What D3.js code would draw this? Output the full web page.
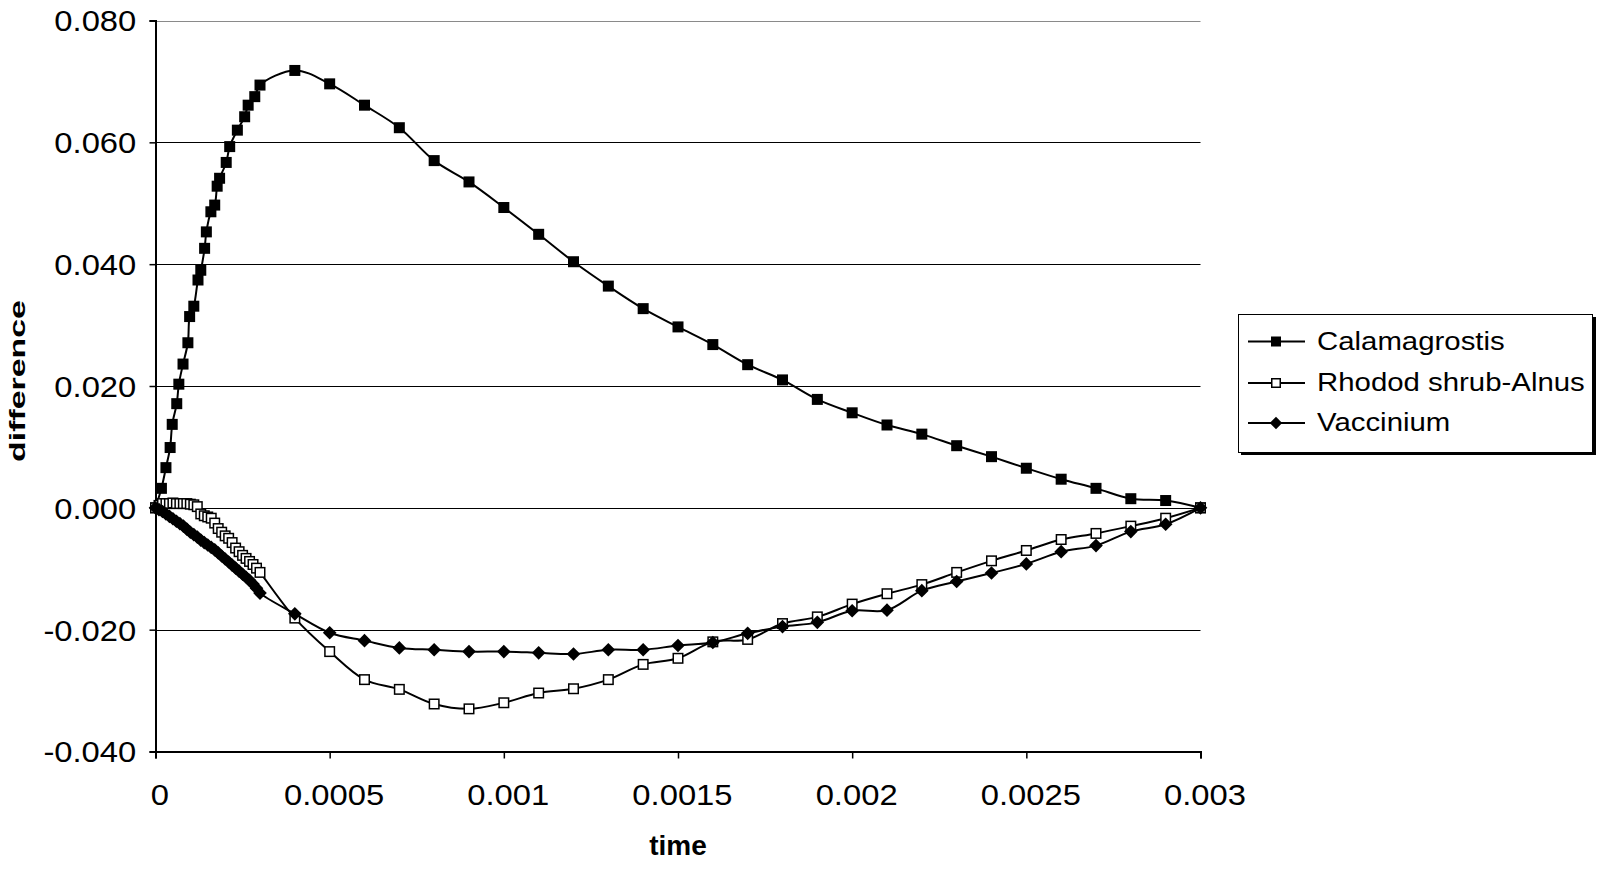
<!DOCTYPE html>
<html>
<head>
<meta charset="utf-8">
<script src="https://cdn.jsdelivr.net/npm/d3@7"></script>
<style>
  html, body { margin: 0; padding: 0; background: #fff; }
  svg { display: block; font-family: "Liberation Sans", Arial, sans-serif; }
</style>
</head>
<body>
<svg id="chart" width="1598" height="870"></svg>
<script>
// ---------------- DATA ----------------
const seriesNames = ["Calamagrostis", "Rhodod shrub-Alnus", "Vaccinium"];

const xTicks = [0, 0.0005, 0.001, 0.0015, 0.002, 0.0025, 0.003];
const xTickLabels = ["0", "0.0005", "0.001", "0.0015", "0.002", "0.0025", "0.003"];
const yTicks = [-0.04, -0.02, 0, 0.02, 0.04, 0.06, 0.08];
const yTickLabels = ["-0.040", "-0.020", "0.000", "0.020", "0.040", "0.060", "0.080"];

// Calamagrostis, early dense part
const calaTimeEarly = [0, 0.000017, 0.00003, 0.000042, 0.000048, 0.000061, 0.000067, 0.000079, 0.000093, 0.000098,
  0.00011, 0.000122, 0.00013, 0.000141, 0.000146, 0.000159, 0.00017, 0.000177, 0.000184, 0.000203,
  0.000213, 0.000235, 0.000256, 0.000266, 0.000285, 0.0003];
const calaValEarly = [0, 0.0032, 0.0066, 0.0099, 0.0137, 0.0171, 0.0203, 0.0236, 0.0271, 0.0314,
  0.0331, 0.0374, 0.0390, 0.0426, 0.0453, 0.0486, 0.0497, 0.0528, 0.0541, 0.0567,
  0.0593, 0.0620, 0.0642, 0.0661, 0.0675, 0.0694];

// Rhodod shrub-Alnus and Vaccinium, early dense part
const earlyTime = [0, 0.00001, 0.00002, 0.00003, 0.00004, 0.00005, 0.00006, 0.00007, 0.00008, 0.00009,
  0.0001, 0.00011, 0.00012, 0.00013, 0.00014, 0.00015, 0.00016, 0.00017, 0.00018, 0.00019,
  0.0002, 0.00021, 0.00022, 0.00023, 0.00024, 0.00025, 0.00026, 0.00027, 0.00028, 0.00029, 0.0003];
const rhodValEarly = [0, 0.0004, 0.0007, 0.0007, 0.0007, 0.0008, 0.0007, 0.0007, 0.0007, 0.0007,
  0.0006, 0.0005, 0.0002, -0.0010, -0.0013, -0.0015, -0.0017, -0.0025, -0.0034, -0.0040,
  -0.0046, -0.0050, -0.0057, -0.0066, -0.0072, -0.0078, -0.0083, -0.0088, -0.0093, -0.0099, -0.0106];
const vaccValEarly = [0, -0.0003, -0.0006, -0.0010, -0.0014, -0.0018, -0.0022, -0.0026, -0.0030, -0.0035,
  -0.0040, -0.0044, -0.0048, -0.0053, -0.0057, -0.0061, -0.0065, -0.0069, -0.0074, -0.0079,
  -0.0084, -0.0089, -0.0094, -0.0099, -0.0104, -0.0109, -0.0114, -0.0119, -0.0125, -0.0132, -0.0140];

// later part, common time steps
const lateTime = [0.0004, 0.0005, 0.0006, 0.0007, 0.0008, 0.0009, 0.001, 0.0011, 0.0012, 0.0013,
  0.0014, 0.0015, 0.0016, 0.0017, 0.0018, 0.0019, 0.002, 0.0021, 0.0022, 0.0023,
  0.0024, 0.0025, 0.0026, 0.0027, 0.0028, 0.0029, 0.003];
const calaValLate = [0.0718, 0.0696, 0.0661, 0.0624, 0.0570, 0.0535, 0.0493, 0.0449, 0.0404, 0.0364,
  0.0327, 0.0297, 0.0268, 0.0235, 0.0210, 0.0178, 0.0156, 0.0136, 0.0121, 0.0102,
  0.0084, 0.0065, 0.0047, 0.0032, 0.0015, 0.0012, 0];
const rhodValLate = [-0.0181, -0.0236, -0.0282, -0.0298, -0.0322, -0.0330, -0.0320, -0.0304, -0.0297, -0.0282,
  -0.0257, -0.0247, -0.0220, -0.0216, -0.0190, -0.0179, -0.0158, -0.0141, -0.0126, -0.0106,
  -0.0087, -0.0070, -0.0052, -0.0042, -0.0030, -0.0017, 0];
const vaccValLate = [-0.0174, -0.0205, -0.0218, -0.0230, -0.0233, -0.0236, -0.0236, -0.0238, -0.0240, -0.0233,
  -0.0233, -0.0226, -0.0221, -0.0206, -0.0195, -0.0188, -0.0169, -0.0168, -0.0136, -0.0121,
  -0.0107, -0.0092, -0.0072, -0.0062, -0.0039, -0.0027, 0];

// ---------------- BUILD ----------------
const zip = (ts, vs) => ts.map((t, i) => ({ t, v: vs[i] }));
const series = [
  { name: seriesNames[0], marker: "square", data: zip(calaTimeEarly, calaValEarly).concat(zip(lateTime, calaValLate)) },
  { name: seriesNames[1], marker: "hollow", data: zip(earlyTime, rhodValEarly).concat(zip(lateTime, rhodValLate)) },
  { name: seriesNames[2], marker: "diamond", data: zip(earlyTime, vaccValEarly).concat(zip(lateTime, vaccValLate)) }
];

const svg = d3.select("#chart");
const x = d3.scaleLinear().domain([0, 0.003]).range([155.5, 1200.5]);
const y = d3.scaleLinear().domain([-0.04, 0.08]).range([751.5, 20.5]);
const SX = 1.13;

// gridlines
svg.append("g").selectAll("line").data(yTicks.filter(d => d !== -0.04)).join("line")
  .attr("x1", x(0)).attr("x2", x(0.003))
  .attr("y1", d => Math.round(y(d)) + 0.5).attr("y2", d => Math.round(y(d)) + 0.5)
  .attr("stroke", d => d === 0.08 ? "#8a8a8a" : "#000").attr("stroke-width", 1.2);

// axes
const yAxis = d3.axisLeft(y).tickValues(yTicks).tickFormat((d, i) => yTickLabels[i]).tickSize(6).tickPadding(11);
const gy = svg.append("g").attr("transform", `translate(${x(0)},0)`).call(yAxis);
gy.select(".domain").attr("stroke", "#000").attr("stroke-width", 2);
gy.selectAll(".tick line").attr("stroke", "#000").attr("stroke-width", 1.5);
gy.selectAll(".tick text").attr("font-size", 29).attr("fill", "#000")
  .attr("font-family", "Liberation Sans, Arial, sans-serif")
  .attr("dy", "0.36em").attr("transform", `scale(${SX},1)`);

const xAxis = d3.axisBottom(x).tickValues(xTicks).tickFormat((d, i) => xTickLabels[i]).tickSize(7);
const gx = svg.append("g").attr("transform", `translate(0,${y(-0.04)})`).call(xAxis);
gx.select(".domain").attr("stroke", "#000").attr("stroke-width", 2);
gx.selectAll(".tick line").attr("stroke", "#000").attr("stroke-width", 1.5);
gx.selectAll(".tick text").attr("font-size", 29).attr("fill", "#000")
  .attr("font-family", "Liberation Sans, Arial, sans-serif")
  .attr("y", 54).attr("dy", 0).attr("x", 3.5).attr("transform", `scale(${SX},1)`);

// axis titles
svg.append("text").text("time").attr("x", 678).attr("y", 855)
  .attr("text-anchor", "middle").attr("font-weight", "bold").attr("font-size", 28);
svg.append("text").text("difference")
  .attr("transform", "translate(25,381) rotate(-90) scale(1.54,1)")
  .attr("text-anchor", "middle").attr("font-weight", "bold").attr("font-size", 22);

// lines & markers
const line = d3.line().x(d => x(d.t)).y(d => y(d.v)).curve(d3.curveCatmullRom.alpha(0.5));

function drawMarker(sel, type, s) {
  if (type === "square") {
    sel.append("rect").attr("x", -s / 2).attr("y", -s / 2).attr("width", s).attr("height", s).attr("fill", "#000");
  } else if (type === "hollow") {
    const h = s - 1.5;
    sel.append("rect").attr("x", -h / 2).attr("y", -h / 2).attr("width", h).attr("height", h)
      .attr("fill", "#fff").attr("stroke", "#000").attr("stroke-width", 1.5);
  } else {
    const r = s * 0.62;
    sel.append("path").attr("d", `M0,${-r}L${r},0L0,${r}L${-r},0Z`).attr("fill", "#000");
  }
}

series.forEach(s => {
  const g = svg.append("g");
  g.append("path").attr("d", line(s.data)).attr("fill", "none").attr("stroke", "#000").attr("stroke-width", 2);
  g.selectAll("g.m").data(s.data).join("g").attr("class", "m")
    .attr("transform", d => `translate(${x(d.t)},${y(d.v)})`)
    .each(function () { drawMarker(d3.select(this), s.marker, 11); });
});

// legend
const lg = svg.append("g");
lg.append("rect").attr("x", 1241).attr("y", 317).attr("width", 355).attr("height", 138).attr("fill", "#000");
lg.append("rect").attr("x", 1238.5).attr("y", 314.5).attr("width", 354).attr("height", 138)
  .attr("fill", "#fff").attr("stroke", "#000").attr("stroke-width", 1);
const rowBase = [350, 391.5, 431.5];
series.forEach((s, i) => {
  const cy = rowBase[i] - 8.5;
  lg.append("line").attr("x1", 1248).attr("x2", 1305).attr("y1", cy).attr("y2", cy)
    .attr("stroke", "#000").attr("stroke-width", 2);
  const m = lg.append("g").attr("transform", `translate(1276,${cy})`);
  drawMarker(m, s.marker, 10);
  lg.append("text").text(s.name).attr("x", 1317 / SX).attr("y", rowBase[i])
    .attr("font-size", 26).attr("fill", "#000").attr("transform", `scale(${SX},1)`);
});
</script>
</body>
</html>
